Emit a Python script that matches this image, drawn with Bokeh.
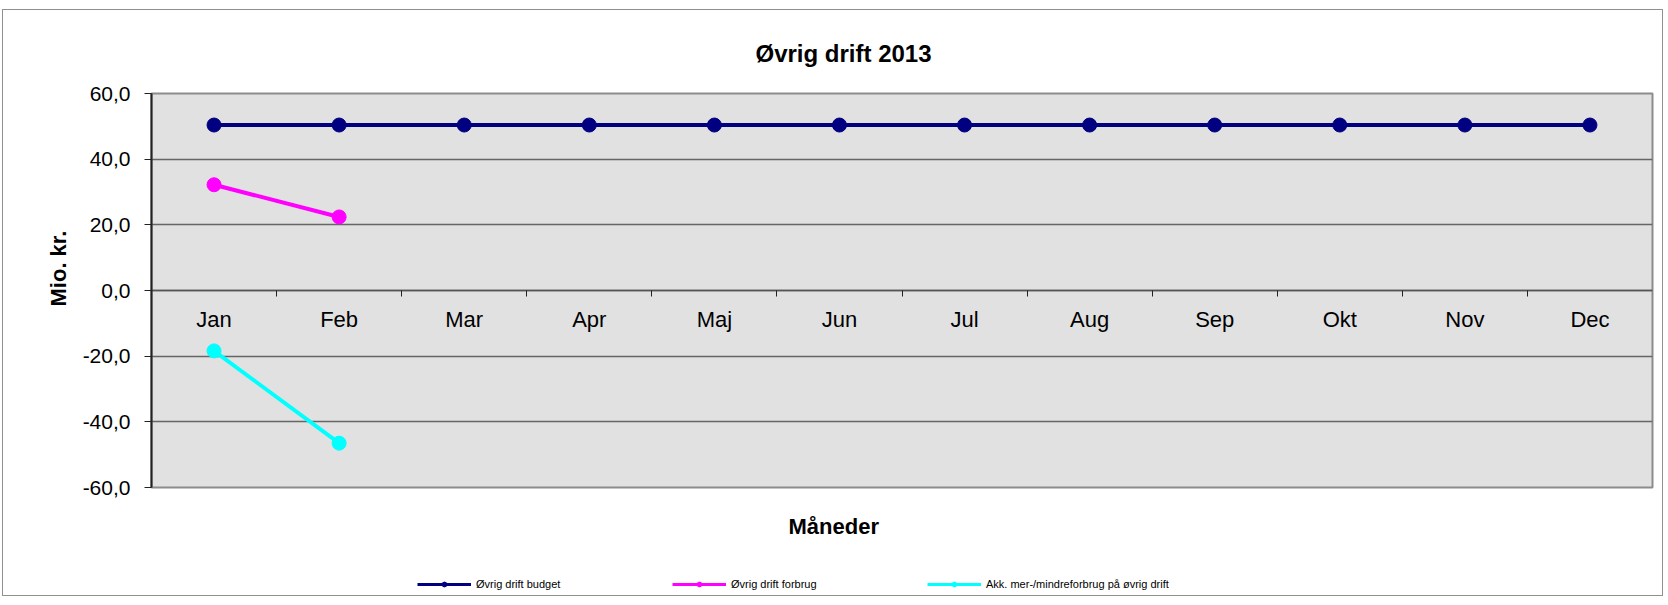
from bokeh.plotting import figure
from bokeh.models import (FixedTicker, LinearAxis, Title, Legend, LegendItem, Range1d, ColumnDataSource)
from bokeh.layouts import column
from bokeh.embed import file_html
from bokeh.resources import INLINE

months = ["Jan", "Feb", "Mar", "Apr", "Maj", "Jun", "Jul", "Aug", "Sep", "Okt", "Nov", "Dec"]
budget = [50.4, 50.4, 50.4, 50.4, 50.4, 50.4, 50.4, 50.4, 50.4, 50.4, 50.4, 50.4]
forbrug = [32.2, 22.4]
akk = [-18.4, -46.5]
y_ticks = [-60, -40, -20, 0, 20, 40, 60]

series_names = ["Øvrig drift budget", "Øvrig drift forbrug", "Akk. mer-/mindreforbrug på øvrig drift"]
colors = ["#000080", "#FF00FF", "#00FFFF"]

FONT = "Liberation Sans"

x_all = [i + 1 for i in range(len(months))]
CANVAS_W = 148 + 1501 + 10

p = figure(frame_width=1501, frame_height=394,
           min_border_left=148, min_border_top=83, min_border_right=10, min_border_bottom=81,
           x_range=Range1d(0.5, len(months) + 0.5), y_range=Range1d(y_ticks[0], y_ticks[-1]),
           x_axis_location=None, y_axis_location="left",
           output_backend="svg", toolbar_location=None)

p.background_fill_color = "#e1e1e1"
p.border_fill_color = "white"
p.outline_line_color = "#8c8c8c"
p.outline_line_width = 2

# y axis
p.yaxis.ticker = FixedTicker(ticks=y_ticks)
p.yaxis.major_label_overrides = {v: f"{v:.1f}".replace(".", ",") for v in y_ticks}
p.yaxis.major_label_text_font = FONT
p.yaxis.major_label_text_font_size = "21px"
p.yaxis.major_label_text_color = "black"
p.yaxis.major_tick_out = 7
p.yaxis.major_tick_in = 0
p.yaxis.minor_tick_line_color = None
p.yaxis.major_tick_line_color = "#222222"
p.yaxis.axis_line_color = "#222222"
p.yaxis.axis_line_width = 2
p.yaxis.major_label_standoff = 14

p.add_layout(Title(text="Mio. kr.", align="left", offset=181, standoff=17,
                   text_font=FONT, text_font_size="22px", text_font_style="bold",
                   text_color="black"), "left")

p.ygrid.ticker = FixedTicker(ticks=y_ticks)
p.ygrid.grid_line_color = "#666666"
p.ygrid.grid_line_width = 1.5
p.xgrid.grid_line_color = None

# title
p.add_layout(Title(text="Øvrig drift 2013", align="left", offset=604, standoff=54,
                   text_font=FONT, text_font_size="24px", text_font_style="bold",
                   text_color="black"), "above")

# x-axis label
p.add_layout(Title(text="Måneder", align="left", offset=637, standoff=48,
                   text_font=FONT, text_font_size="22px", text_font_style="bold",
                   text_color="black"), "below")

# category axis drawn at y = 0 (ticks at category boundaries only)
xaxis = LinearAxis(fixed_location=0,
                   ticker=FixedTicker(ticks=[], minor_ticks=[x + 0.5 for x in x_all[:-1]]))
xaxis.major_label_standoff = 0
xaxis.major_tick_line_color = None
xaxis.major_tick_out = 0
xaxis.major_tick_in = 0
xaxis.minor_tick_line_color = "#222222"
xaxis.minor_tick_out = 6
xaxis.minor_tick_in = 0
xaxis.axis_line_color = "#555555"
xaxis.axis_line_width = 1.5
p.add_layout(xaxis, "below")

# month labels under the zero line
month_src = ColumnDataSource(dict(x=x_all, y=[0 for _ in months], text=months))
p.text(x="x", y="y", text="text", source=month_src, y_offset=16,
       text_align="center", text_baseline="top",
       text_font={"value": FONT}, text_font_size="22px", text_color="black")

data = [budget, forbrug, akk]
for vals, c in zip(data, colors):
    xs = x_all[:len(vals)]
    p.line(xs, vals, line_color=c, line_width=4)
    p.scatter(xs, vals, size=14, fill_color=c, line_color=c)

# legend strip below the chart (its renderers lie outside its own view)
lf = figure(width=CANVAS_W, height=27, x_range=Range1d(-10, -9), y_range=Range1d(-10, -9),
            min_border=0, x_axis_location=None, y_axis_location=None,
            output_backend="svg", toolbar_location=None)
lf.outline_line_color = None
lf.grid.visible = False
lf.border_fill_color = "white"
lf.background_fill_color = "white"

items = []
for n, vals, c in zip(series_names, data, colors):
    xs = x_all[:len(vals)]
    l = lf.line(xs, vals, line_color=c, line_width=3)
    s = lf.scatter(xs, vals, size=7, fill_color=c, line_color=c)
    items.append(LegendItem(label=n, renderers=[l, s]))

legend = Legend(items=items, orientation="horizontal", location=(266, 5),
                glyph_width=54, glyph_height=12, label_height=12, label_width=196,
                label_standoff=5, spacing=0, padding=0, margin=0,
                label_text_font=FONT, label_text_font_size="11px", label_text_color="black",
                border_line_color=None, background_fill_alpha=0)
lf.add_layout(legend, "center")

layout = column(p, lf, spacing=0)
layout.styles = {"border": "1px solid #909090", "margin": "9px 0 0 2px"}

open("out.html", "w").write(file_html(layout, INLINE))
